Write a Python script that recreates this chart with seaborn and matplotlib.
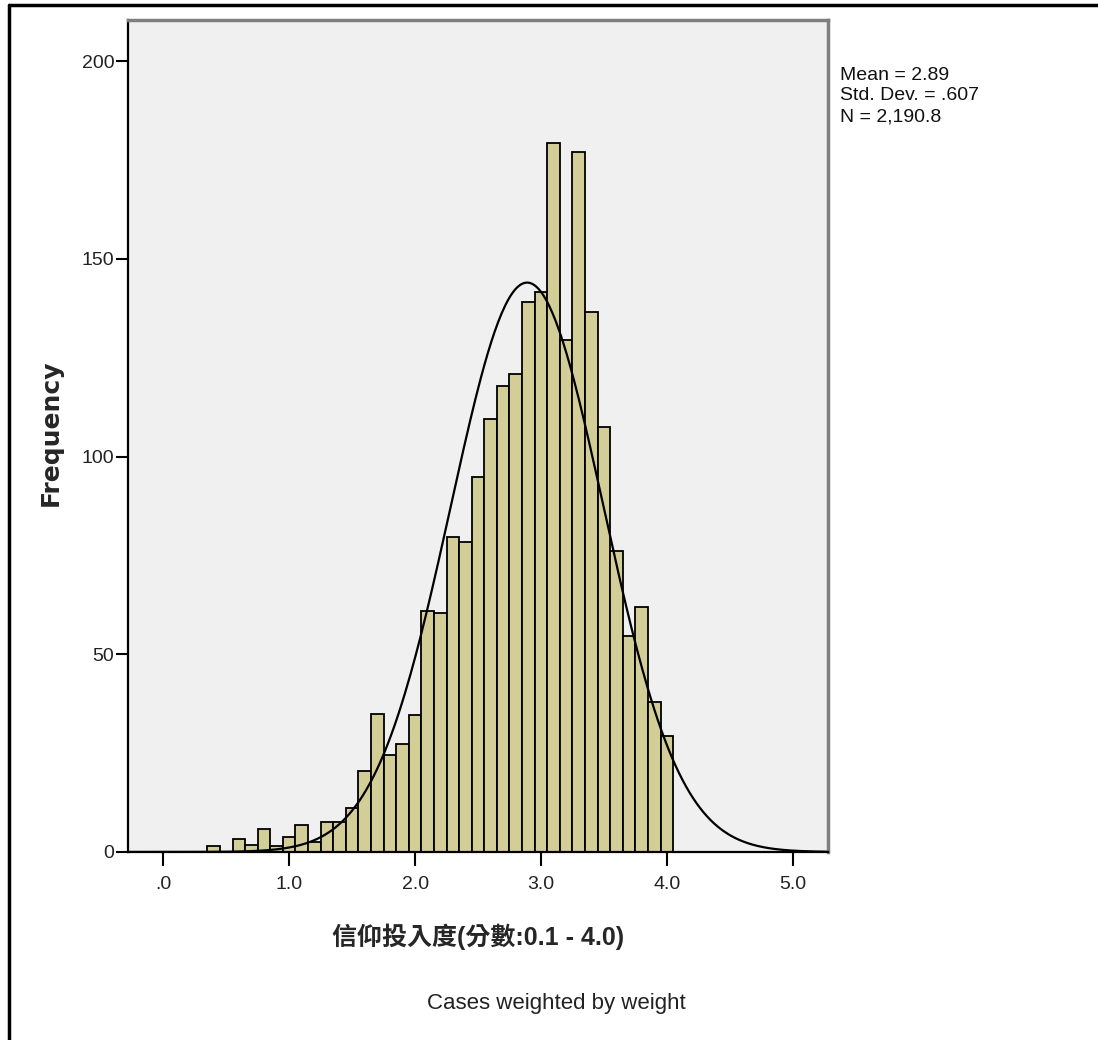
import matplotlib
matplotlib.use("Agg")
import matplotlib.pyplot as plt
import numpy as np
import pandas as pd
import seaborn as sns
from matplotlib.lines import Line2D

# bin centres (score) and weighted counts
binCenters = [0.1, 0.2, 0.3, 0.4, 0.5, 0.6, 0.7, 0.8, 0.9, 1.0,
              1.1, 1.2, 1.3, 1.4, 1.5, 1.6, 1.7, 1.8, 1.9, 2.0,
              2.1, 2.2, 2.3, 2.4, 2.5, 2.6, 2.7, 2.8, 2.9, 3.0,
              3.1, 3.2, 3.3, 3.4, 3.5, 3.6, 3.7, 3.8, 3.9, 4.0]
binCounts = [0, 0, 0, 1.5, 0, 3.3, 1.8, 5.8, 1.6, 3.7,
             6.8, 2.4, 7.7, 7.5, 11.0, 20.6, 34.8, 24.5, 27.2, 34.6,
             60.9, 60.5, 79.7, 78.3, 94.9, 109.4, 117.9, 120.8, 139.2, 141.7,
             179.2, 129.5, 177.1, 136.6, 107.5, 76.2, 54.6, 62.0, 37.8, 29.3]
binWidth = 0.1

statMean = 2.89
statStd = 0.607
statN = 2190.8

xTicks = [0, 1, 2, 3, 4, 5]
xTickLabels = [".0", "1.0", "2.0", "3.0", "4.0", "5.0"]
yTicks = [0, 50, 100, 150, 200]

xLabel = "信仰投入度(分數:0.1 - 4.0)"
yLabel = "Frequency"
footNote = "Cases weighted by weight"
statsText = f"Mean = {statMean:.2f}\nStd. Dev. = .607\nN = 2,190.8"

sns.set_style("white")
plt.rcParams["font.family"] = ["Liberation Sans", "DejaVu Sans"]

df = pd.DataFrame({"score": binCenters, "count": binCounts})
edges = [round(0.05 + i * binWidth, 3) for i in range(len(binCenters) + 1)]

fig = plt.figure(figsize=(10.98, 10.40), dpi=100)
ax = fig.add_axes([0.1166, 0.1808, 0.6375, 0.8000])
ax.set_facecolor("#F0F0F0")

sns.histplot(data=df, x="score", weights="count", bins=edges, ax=ax,
             color="#D3CE97", alpha=1, edgecolor="black", linewidth=1.3)

# normal curve scaled to the histogram
curveX = np.linspace(-0.28, 5.28, 400)
curveY = statN * binWidth / (statStd * np.sqrt(2 * np.pi)) * \
    np.exp(-0.5 * ((curveX - statMean) / statStd) ** 2)
sns.lineplot(x=curveX, y=curveY, ax=ax, color="black", linewidth=1.6)

ax.set_xlim(-0.28, 5.28)
ax.set_ylim(0, 210.4)
ax.set_xticks(xTicks)
ax.set_xticklabels(xTickLabels)
ax.set_yticks(yTicks)
ax.tick_params(axis="x", length=10, width=1.5, pad=7, labelsize=14,
               direction="out", bottom=True, colors="black")
ax.tick_params(axis="y", length=9, width=1.5, pad=1, labelsize=14,
               direction="out", left=True, colors="black")
for lab in ax.get_xticklabels() + ax.get_yticklabels():
    lab.set_color("#222222")

for side in ["left", "bottom"]:
    ax.spines[side].set_color("black")
    ax.spines[side].set_linewidth(1.6)
for side in ["top", "right"]:
    ax.spines[side].set_color("#808080")
    ax.spines[side].set_linewidth(2.5)

ax.set_xlabel("")
ax.set_ylabel("")
fig.text(0.046, 0.584, yLabel, rotation=90, ha="center", va="center",
         fontsize=18, fontweight="bold", family=["DejaVu Sans"])
fig.text(0.435, 0.099, xLabel, ha="center", va="center", fontsize=18,
         fontweight="bold", family=["Liberation Sans", "Noto Sans CJK TC"])
fig.text(0.507, 0.035, footNote, ha="center", va="center", fontsize=16,
         color="#222222")
fig.text(0.765, 0.936, statsText, ha="left", va="top", fontsize=14,
         linespacing=1.3, color="#111111")

# outer frame (left and top edges only are visible)
fig.add_artist(Line2D([0.0085, 0.0085], [0, 0.995], transform=fig.transFigure,
                      color="black", linewidth=2.5))
fig.add_artist(Line2D([0.0085, 1.0], [0.995, 0.995], transform=fig.transFigure,
                      color="black", linewidth=2.5))

fig.savefig("out.png", dpi=100)
